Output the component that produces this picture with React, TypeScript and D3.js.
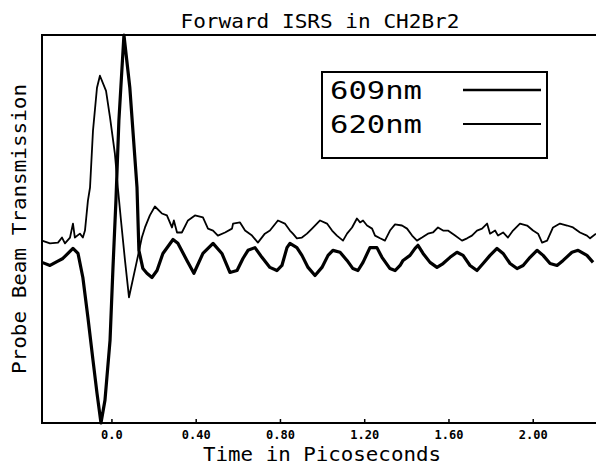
import React from "react";
import * as d3 from "d3";

// Time (ps) and probe-transmission values (arbitrary units)
const time609 = [-0.332,-0.294,-0.261,-0.233,-0.185,-0.161,-0.138,-0.114,-0.090,-0.071,-0.052,-0.033,-0.009,0.005,0.019,0.033,0.057,0.085,0.119,0.128,0.147,0.166,0.190,0.214,0.242,0.290,0.313,0.356,0.389,0.432,0.480,0.522,0.560,0.594,0.622,0.646,0.679,0.712,0.750,0.783,0.807,0.831,0.845,0.878,0.902,0.931,0.964,0.997,1.026,1.049,1.083,1.116,1.144,1.168,1.192,1.225,1.258,1.282,1.320,1.344,1.368,1.382,1.415,1.439,1.453,1.477,1.510,1.543,1.572,1.605,1.638,1.667,1.700,1.733,1.762,1.795,1.828,1.857,1.890,1.923,1.952,1.985,2.018,2.047,2.080,2.113,2.142,2.184,2.213,2.255,2.284];
const value609 = [41.4,40.6,41.6,42.4,45.0,43.7,37.5,27.2,16.2,7.7,0.0,5.9,21.3,40.1,57.3,77.9,100,86.4,60.7,44.5,39.8,38.6,37.5,39.3,43.7,47.3,46.3,41.9,38.6,43.7,46.3,43.7,38.8,39.3,42.4,44.5,45.2,42.7,40.1,39.3,40.6,45.2,46.3,45.2,43.2,40.1,38.0,40.1,43.2,44.5,44.0,41.9,39.8,39.3,41.4,45.2,45.2,42.7,39.8,39.3,40.6,41.9,43.2,45.0,45.8,43.7,41.4,40.1,41.1,42.7,44.0,43.2,40.6,39.3,41.1,43.2,45.0,43.7,41.1,39.8,40.6,42.7,44.5,43.2,41.1,40.6,41.9,44.0,44.5,43.2,41.4];

const time620 = [-0.332,-0.294,-0.256,-0.237,-0.223,-0.199,-0.185,-0.176,-0.152,-0.138,-0.128,-0.114,-0.104,-0.090,-0.071,-0.057,-0.028,-0.009,0.014,0.028,0.043,0.062,0.081,0.119,0.142,0.157,0.180,0.204,0.237,0.261,0.285,0.294,0.309,0.332,0.361,0.394,0.432,0.456,0.480,0.503,0.537,0.570,0.575,0.608,0.632,0.665,0.693,0.726,0.750,0.788,0.821,0.845,0.859,0.878,0.902,0.926,0.950,0.988,1.021,1.045,1.068,1.097,1.116,1.140,1.163,1.178,1.192,1.211,1.235,1.249,1.273,1.296,1.320,1.344,1.377,1.401,1.425,1.448,1.472,1.500,1.524,1.548,1.572,1.595,1.629,1.662,1.686,1.709,1.733,1.757,1.781,1.795,1.819,1.833,1.857,1.880,1.904,1.937,1.971,1.999,2.023,2.042,2.066,2.094,2.127,2.161,2.189,2.222,2.255,2.270,2.298];
const value620 = [47.0,46.3,46.5,47.8,46.3,47.8,51.4,47.8,48.8,47.8,49.6,57.3,60.7,75.3,86.4,89.5,85.6,78.7,69.4,60.7,52.2,41.9,32.4,41.9,47.8,50.4,53.5,55.8,54.0,53.5,50.4,52.2,49.1,49.1,52.2,53.5,53.0,50.1,49.6,48.3,49.1,50.1,51.4,51.7,49.6,48.3,46.5,48.8,49.6,52.2,51.4,49.6,48.8,47.6,47.8,48.8,50.1,52.2,51.4,49.6,48.3,47.0,48.8,50.4,52.7,51.7,52.2,50.9,50.1,48.3,47.6,47.0,49.6,51.2,50.9,50.1,48.3,47.0,47.8,48.8,49.1,50.4,49.6,49.6,48.3,47.0,47.6,48.3,49.6,50.1,51.4,48.8,49.6,48.3,49.1,47.8,49.6,51.4,50.9,49.6,48.8,46.5,47.0,50.4,51.4,50.9,50.4,49.1,48.3,47.6,48.8];

const xTicks = [0, 0.4, 0.8, 1.2, 1.6, 2.0];
const xTickLabels = ["0.0", "0.40", "0.80", "1.20", "1.60", "2.00"];
const seriesNames = ["609nm", "620nm"];

const W = 596;
const H = 464;
const M = { left: 42, right: 0, top: 35, bottom: 41 };
const FONT = "'DejaVu Sans Mono', monospace";

export default function App() {
  const x = d3.scaleLinear().domain([-0.332, 2.298]).range([M.left, W - M.right]);
  const y = d3.scaleLinear().domain([0, 100]).range([H - M.bottom, M.top]);
  const line = d3
    .line<[number, number]>()
    .x((d) => x(d[0]))
    .y((d) => y(d[1]));
  const d609 = line(time609.map((t, i) => [t, value609[i]] as [number, number])) || "";
  const d620 = line(time620.map((t, i) => [t, value620[i]] as [number, number])) || "";
  const x0 = M.left;
  const x1 = W - M.right;
  const yTop = M.top;
  const yBot = H - M.bottom;

  return (
    <svg
      width={W}
      height={H}
      style={{ position: "absolute", left: 0, top: 0, background: "#fff" }}
    >
      <rect x={0} y={0} width={W} height={H} fill="#fff" />
      {/* frame */}
      <line x1={x0} y1={yTop} x2={x1} y2={yTop} stroke="#000" strokeWidth={2} />
      <line x1={x0} y1={yTop - 1} x2={x0} y2={yBot + 1} stroke="#000" strokeWidth={2} />
      <line x1={x0} y1={yBot} x2={x1} y2={yBot} stroke="#000" strokeWidth={2} />
      {/* x ticks */}
      {xTicks.map((t, i) => (
        <g key={i}>
          <line x1={x(t)} y1={yBot} x2={x(t)} y2={yBot - 4} stroke="#000" strokeWidth={1.5} />
          <text
            x={x(t)}
            y={yBot + 16}
            textAnchor="middle"
            fontFamily={FONT}
            fontWeight="bold"
            fontSize={12}
            fill="#000"
          >
            {xTickLabels[i]}
          </text>
        </g>
      ))}
      {/* curves */}
      <path d={d620} fill="none" stroke="#000" strokeWidth={1.8} strokeLinejoin="round" />
      <path d={d609} fill="none" stroke="#000" strokeWidth={3.2} strokeLinejoin="round" />
      {/* title */}
      <text
        x={320}
        y={28}
        textAnchor="middle"
        fontFamily={FONT}
        fontSize={19}
        textLength={279}
        lengthAdjust="spacingAndGlyphs"
        fill="#000"
      >
        Forward ISRS in CH2Br2
      </text>
      {/* x title */}
      <text
        x={322}
        y={461}
        textAnchor="middle"
        fontFamily={FONT}
        fontSize={19}
        textLength={238}
        lengthAdjust="spacingAndGlyphs"
        fill="#000"
      >
        Time in Picoseconds
      </text>
      {/* y title */}
      <text
        transform={`translate(26,${(yTop + yBot) / 2}) rotate(-90)`}
        textAnchor="middle"
        fontFamily={FONT}
        fontSize={19}
        textLength={290}
        lengthAdjust="spacingAndGlyphs"
        fill="#000"
      >
        Probe Beam Transmission
      </text>
      {/* legend */}
      <rect x={322} y={72} width={225} height={86} fill="#fff" stroke="#000" strokeWidth={2} />
      <text x={330} y={99} fontFamily={FONT} fontSize={25} textLength={92} lengthAdjust="spacingAndGlyphs" fill="#000">
        {seriesNames[0]}
      </text>
      <text x={330} y={133} fontFamily={FONT} fontSize={25} textLength={92} lengthAdjust="spacingAndGlyphs" fill="#000">
        {seriesNames[1]}
      </text>
      <line x1={463} y1={90} x2={541} y2={90} stroke="#000" strokeWidth={2.6} />
      <line x1={463} y1={124} x2={541} y2={124} stroke="#000" strokeWidth={2} />
    </svg>
  );
}
